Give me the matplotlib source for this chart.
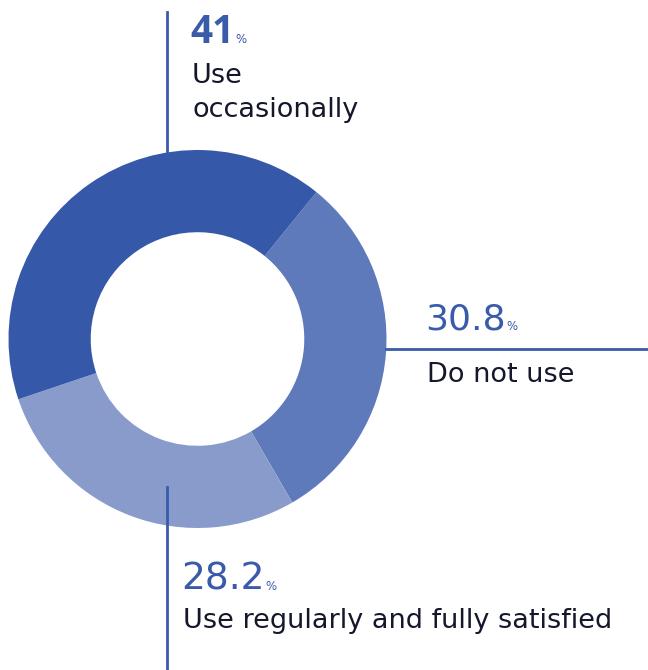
import matplotlib
matplotlib.use('Agg')
import matplotlib.pyplot as plt

# survey shares, clockwise from the upper right
labels = ['Do not use', 'Use regularly and fully satisfied', 'Use\noccasionally']
shares = [30.8, 28.2, 41]
value_text = ['30.8', '28.2', '41']
colors = ['#5e7aba', '#889bcb', '#3559a8']

line_col = '#3a5aaa'
num_col = '#3a5aaa'
txt_col = '#15172b'
W, H = 648, 670

plt.rcParams['font.family'] = ['DejaVu Sans']

fig = plt.figure(figsize=(W / 100, H / 100), dpi=100)
ax = fig.add_axes([0, 0, 1, 1])

def Y(y):
    # pixel row from the top -> axes y
    return H - y

cx, cy, r_out = 197.5, 339, 189
ax.pie(shares, colors=colors, startangle=51, counterclock=False,
       center=(cx, Y(cy)), radius=r_out, frame=True,
       wedgeprops=dict(width=r_out * 0.435, linewidth=0))
ax.set_xlim(0, W)
ax.set_ylim(0, H)
ax.set_aspect('equal')
ax.axis('off')

# leader lines
ax.plot([167, 167], [Y(12), Y(152)], color=line_col, lw=2)
ax.plot([386, W], [Y(349), Y(349)], color=line_col, lw=2)
ax.plot([167, 167], [Y(487), Y(H)], color=line_col, lw=2)

fig.canvas.draw()
rend = fig.canvas.get_renderer()

def value_label(x, y, txt, size, weight, family='DejaVu Sans'):
    t = ax.text(x, Y(y), txt, fontsize=size, fontweight=weight, color=num_col,
                family=family, ha='left', va='baseline')
    bb = t.get_window_extent(renderer=rend)
    ax.text(bb.x1 + 1, Y(y), '%', fontsize=8.5, color=num_col,
            ha='left', va='baseline')

value_label(190, 43, value_text[2], 28, 'bold', family='Open Sans')
value_label(425, 330, value_text[0], 26, 'normal')
value_label(181, 590, value_text[1], 27, 'normal')

lab_kw = dict(fontsize=19.5, color=txt_col, ha='left', va='baseline')
ax.text(192, Y(83), 'Use', **lab_kw)
ax.text(192, Y(117), 'occasionally', **lab_kw)
ax.text(427, Y(382), labels[0], **lab_kw)
ax.text(183, Y(628), labels[1], **lab_kw)

fig.savefig('out.png', dpi=100)
